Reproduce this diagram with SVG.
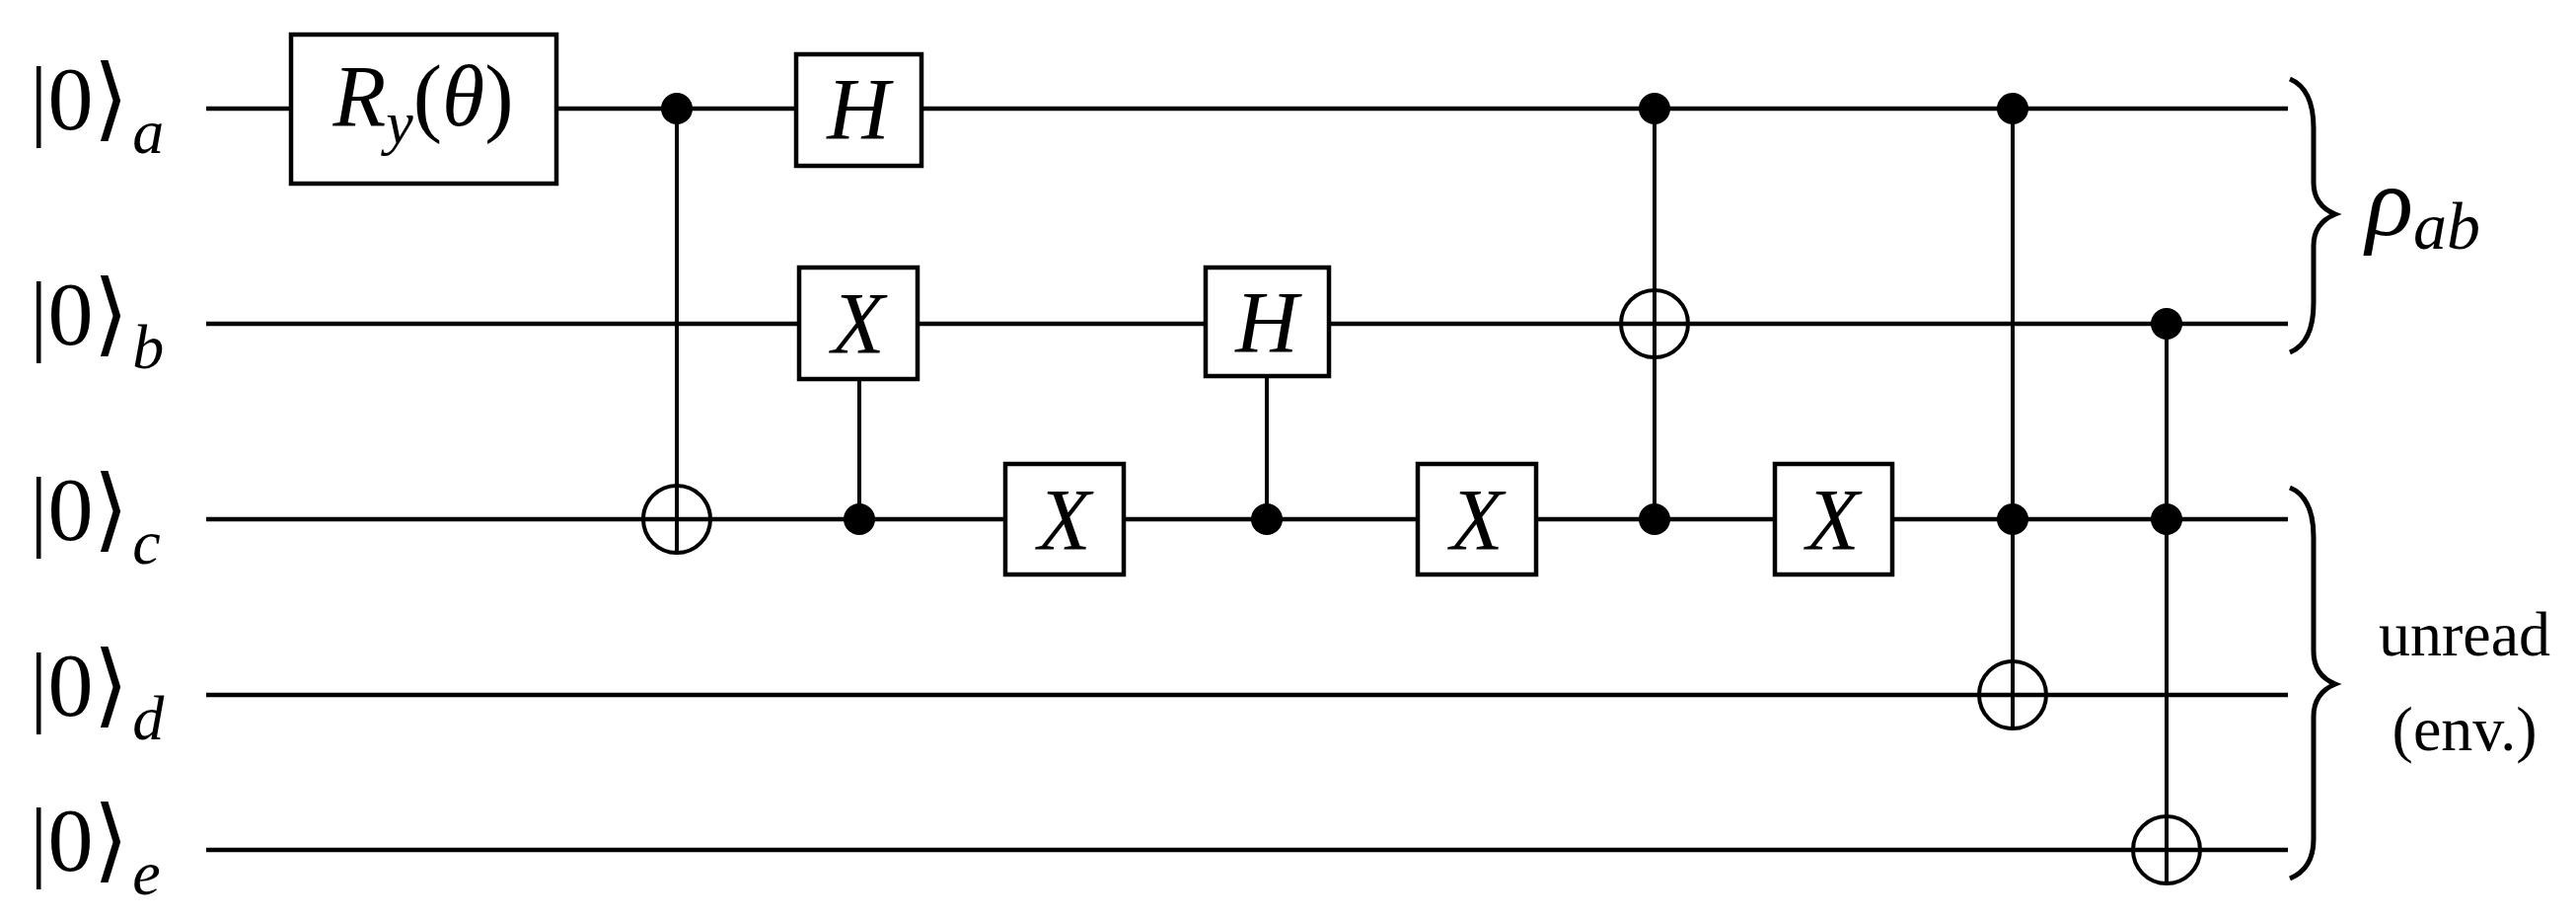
<svg xmlns="http://www.w3.org/2000/svg" width="2611" height="931" viewBox="0 0 2611 931">
<style>
.w{stroke:#000;stroke-width:4.5;fill:none}
.v{stroke:#000;stroke-width:4;fill:none}
.box{stroke:#000;stroke-width:4.5;fill:#fff}
.dot{fill:#000}
.op{stroke:#000;stroke-width:4;fill:none}
.lbl{font-family:"Liberation Serif","DejaVu Serif",serif;font-size:92px}
.ang{font-family:"DejaVu Serif",serif;font-weight:200}
.sub{font-family:"Liberation Serif",serif;font-style:italic;font-size:64px}
.g{font-family:"Liberation Serif",serif;font-style:italic;font-size:88px;text-anchor:middle}
.t{font-family:"Liberation Serif",serif;font-size:64px;text-anchor:middle}
.br{stroke:#000;stroke-width:5;fill:none}
</style>
<g id="labels">
<text class="lbl" x="30" y="131">|0<tspan class="ang">⟩</tspan><tspan class="sub" dy="24" dx="4">a</tspan></text>
<text class="lbl" x="30" y="349">|0<tspan class="ang">⟩</tspan><tspan class="sub" dy="24" dx="4">b</tspan></text>
<text class="lbl" x="30" y="547">|0<tspan class="ang">⟩</tspan><tspan class="sub" dy="24" dx="4">c</tspan></text>
<text class="lbl" x="30" y="725">|0<tspan class="ang">⟩</tspan><tspan class="sub" dy="24" dx="4">d</tspan></text>
<text class="lbl" x="30" y="882">|0<tspan class="ang">⟩</tspan><tspan class="sub" dy="24" dx="4">e</tspan></text>
</g>
<g id="wires">
<line class="w" x1="209" y1="110" x2="2319" y2="110"/>
<line class="w" x1="209" y1="328" x2="2319" y2="328"/>
<line class="w" x1="209" y1="526" x2="2319" y2="526"/>
<line class="w" x1="209" y1="704" x2="2319" y2="704"/>
<line class="w" x1="209" y1="861" x2="2319" y2="861"/>
</g>
<g id="connectors">
<line class="v" x1="686" y1="110" x2="686" y2="560"/>
<line class="v" x1="871" y1="384" x2="871" y2="526"/>
<line class="v" x1="1284" y1="381" x2="1284" y2="526"/>
<line class="v" x1="1677" y1="110" x2="1677" y2="526"/>
<line class="v" x1="2040" y1="110" x2="2040" y2="738"/>
<line class="v" x1="2196" y1="328" x2="2196" y2="895"/>
</g>
<g id="gate-ry"><rect class="box" x="295" y="35" width="269" height="151"/>
<text class="g" x="429" y="127">R<tspan font-size="62" dy="18">y</tspan><tspan dy="-18" font-style="normal">(</tspan>θ<tspan font-style="normal">)</tspan></text></g>
<g id="gate-h1"><rect class="box" x="807" y="55" width="127" height="113"/><text class="g" x="870" y="140">H</text></g>
<g id="gate-x1"><rect class="box" x="810" y="271" width="120" height="113"/><text class="g" x="870" y="357">X</text></g>
<g id="gate-h2"><rect class="box" x="1222" y="271" width="125" height="110"/><text class="g" x="1284" y="356">H</text></g>
<g id="gate-x2"><rect class="box" x="1019" y="470" width="120" height="112"/><text class="g" x="1079" y="556">X</text></g>
<g id="gate-x3"><rect class="box" x="1437" y="470" width="120" height="112"/><text class="g" x="1497" y="556">X</text></g>
<g id="gate-x4"><rect class="box" x="1799" y="470" width="119" height="112"/><text class="g" x="1858" y="556">X</text></g>
<g id="controls">
<circle class="dot" cx="686" cy="110" r="16"/>
<circle class="dot" cx="871" cy="526" r="16"/>
<circle class="dot" cx="1284" cy="526" r="16"/>
<circle class="dot" cx="1677" cy="110" r="16"/>
<circle class="dot" cx="1677" cy="526" r="16"/>
<circle class="dot" cx="2040" cy="110" r="16"/>
<circle class="dot" cx="2040" cy="526" r="16"/>
<circle class="dot" cx="2196" cy="328" r="16"/>
<circle class="dot" cx="2196" cy="526" r="16"/>
</g>
<g id="targets">
<circle class="op" cx="686" cy="526" r="34"/>
<circle class="op" cx="1677" cy="328" r="34"/>
<line class="v" x1="1677" y1="294" x2="1677" y2="362"/>
<circle class="op" cx="2040" cy="704" r="34"/>
<circle class="op" cx="2196" cy="861" r="34"/>
</g>
<g id="braces">
<path class="br" d="M2321,80 Q2345,90 2345,130 L2345,185 Q2345,208 2367,217 Q2345,226 2345,249 L2345,307 Q2345,347 2321,357"/>
<path class="br" d="M2321,494 Q2345,504 2345,544 L2345,660 Q2345,684 2367,693 Q2345,702 2345,726 L2345,850 Q2345,880 2321,890"/>
</g>
<g id="outputs">
<text x="2398" y="238" style="font-family:'Liberation Serif',serif;font-style:italic;font-size:100px">ρ<tspan font-size="68" dy="14">ab</tspan></text>
<text class="t" x="2498" y="664">unread</text>
<text class="t" x="2498" y="760">(env.)</text>
</g>
</svg>
